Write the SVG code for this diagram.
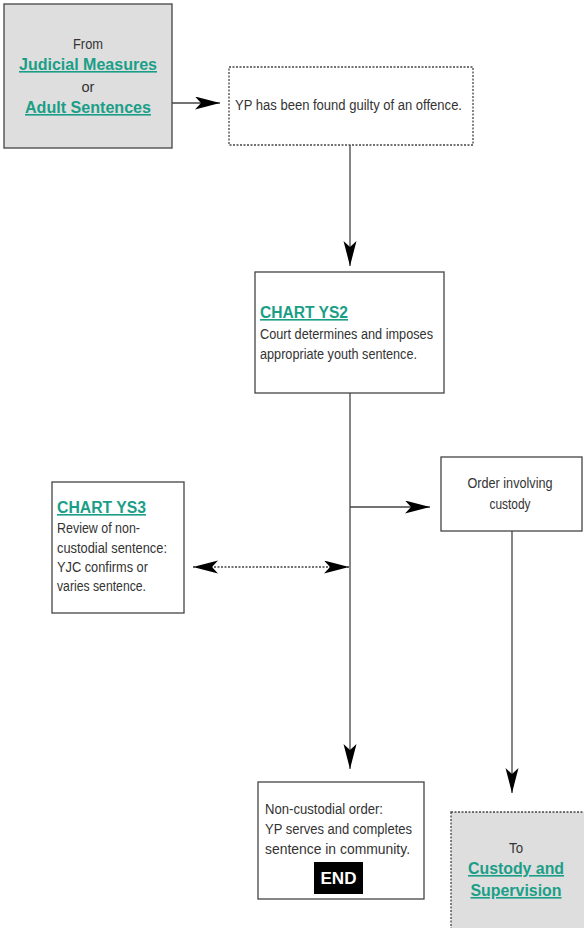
<svg xmlns="http://www.w3.org/2000/svg" width="584" height="928" viewBox="0 0 584 928">
<style>
.t{font-family:"Liberation Sans",Arial,sans-serif;font-size:15.5px;fill:#333}
.l{font-family:"Liberation Sans",Arial,sans-serif;font-size:16px;font-weight:bold;fill:#1a9e88;text-decoration:underline}
.box{fill:#fff;stroke:#444;stroke-width:1.3}
.grey{fill:#dedede;stroke:#444;stroke-width:1.3}
.dot{stroke-dasharray:2 1.5}
.c{fill:none;stroke:#444;stroke-width:1.3}
</style>
<defs>
<marker id="ah" markerUnits="userSpaceOnUse" markerWidth="26" markerHeight="14" refX="25" refY="6.5" orient="auto-start-reverse">
<path d="M0,0 L25,6.5 L0,13 L6,6.5 z" fill="#000"/>
</marker>
</defs>
<g id="connectors">
<line class="c" x1="172" y1="103" x2="220" y2="103" marker-end="url(#ah)"/>
<line class="c" x1="350" y1="145" x2="350" y2="266" marker-end="url(#ah)"/>
<line class="c" x1="350" y1="393" x2="350" y2="769" marker-end="url(#ah)"/>
<line class="c" x1="350" y1="507" x2="430" y2="507" marker-end="url(#ah)"/>
<line class="c dot" x1="193" y1="567" x2="349" y2="567" marker-start="url(#ah)" marker-end="url(#ah)"/>
<line class="c" x1="512" y1="531" x2="512" y2="793" marker-end="url(#ah)"/>
</g>
<g id="from">
<rect class="grey" x="4" y="4" width="168" height="144"/>
<text class="t" x="88" y="49" text-anchor="middle" textLength="30" lengthAdjust="spacingAndGlyphs">From</text>
<text class="l" x="88" y="70" text-anchor="middle" textLength="138" lengthAdjust="spacingAndGlyphs">Judicial Measures</text>
<text class="t" x="88" y="92" text-anchor="middle" textLength="13" lengthAdjust="spacingAndGlyphs">or</text>
<text class="l" x="88" y="113" text-anchor="middle" textLength="126" lengthAdjust="spacingAndGlyphs">Adult Sentences</text>
</g>
<g id="guilty">
<rect class="box dot" x="229" y="67" width="244" height="78"/>
<text class="t" x="235" y="110" textLength="227" lengthAdjust="spacingAndGlyphs">YP has been found guilty of an offence.</text>
</g>
<g id="ys2">
<rect class="box" x="255" y="272" width="189" height="121"/>
<text class="l" x="260" y="318" textLength="88" lengthAdjust="spacingAndGlyphs">CHART YS2</text>
<text class="t" x="260" y="339" textLength="173" lengthAdjust="spacingAndGlyphs">Court determines and imposes</text>
<text class="t" x="260" y="359" textLength="157" lengthAdjust="spacingAndGlyphs">appropriate youth sentence.</text>
</g>
<g id="ys3">
<rect class="box" x="52" y="482" width="132" height="131"/>
<text class="l" x="57" y="513" textLength="89" lengthAdjust="spacingAndGlyphs">CHART YS3</text>
<text class="t" x="57" y="533" textLength="83" lengthAdjust="spacingAndGlyphs">Review of non-</text>
<text class="t" x="57" y="553" textLength="110" lengthAdjust="spacingAndGlyphs">custodial sentence:</text>
<text class="t" x="57" y="572" textLength="91" lengthAdjust="spacingAndGlyphs">YJC confirms or</text>
<text class="t" x="57" y="591" textLength="89" lengthAdjust="spacingAndGlyphs">varies sentence.</text>
</g>
<g id="custody">
<rect class="box" x="441" y="457" width="141" height="74"/>
<text class="t" x="510" y="488" text-anchor="middle" textLength="85" lengthAdjust="spacingAndGlyphs">Order involving</text>
<text class="t" x="510" y="509" text-anchor="middle" textLength="41" lengthAdjust="spacingAndGlyphs">custody</text>
</g>
<g id="noncustodial">
<rect class="box" x="258" y="782" width="166" height="117"/>
<text class="t" x="265" y="814" textLength="118" lengthAdjust="spacingAndGlyphs">Non-custodial order:</text>
<text class="t" x="265" y="834" textLength="147" lengthAdjust="spacingAndGlyphs">YP serves and completes</text>
<text class="t" x="265" y="854" textLength="145" lengthAdjust="spacingAndGlyphs">sentence in community.</text>
<rect x="314" y="862" width="49" height="32" fill="#000"/>
<text x="338.5" y="884" text-anchor="middle" font-family="Liberation Sans,Arial,sans-serif" font-size="16" font-weight="bold" fill="#fff" textLength="36" lengthAdjust="spacingAndGlyphs">END</text>
</g>
<g id="supervision">
<rect class="grey dot" x="451" y="812" width="140" height="120"/>
<text class="t" x="516" y="853" text-anchor="middle" textLength="14" lengthAdjust="spacingAndGlyphs">To</text>
<text class="l" x="516" y="874" text-anchor="middle" textLength="96" lengthAdjust="spacingAndGlyphs">Custody and</text>
<text class="l" x="516" y="896" text-anchor="middle" textLength="91" lengthAdjust="spacingAndGlyphs">Supervision</text>
</g>
</svg>
